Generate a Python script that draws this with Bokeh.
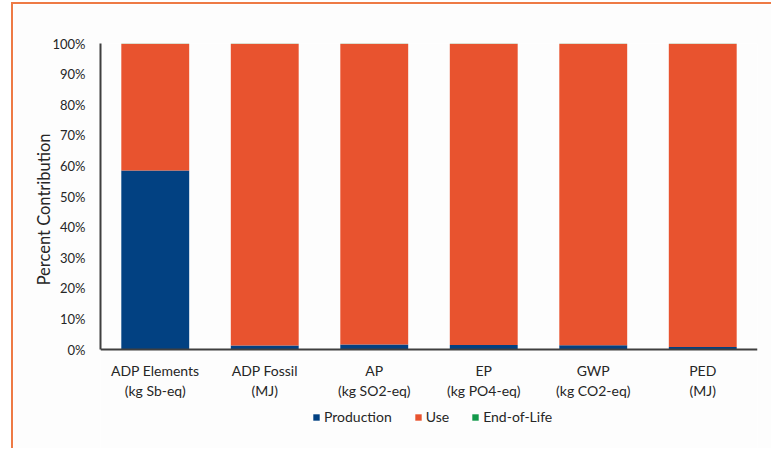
from bokeh.plotting import figure
from bokeh.models import FactorRange, Range1d, Legend, LegendItem, PrintfTickFormatter, ColumnDataSource, Title
from bokeh.embed import file_html
from bokeh.resources import INLINE

# Impact categories (two-line axis labels)
categories = ["ADP Elements\n(kg Sb-eq)", "ADP Fossil\n(MJ)", "AP\n(kg SO2-eq)",
              "EP\n(kg PO4-eq)", "GWP\n(kg CO2-eq)", "PED\n(MJ)"]
stages = ["Production", "Use", "End-of-Life"]

# Percent contribution of each life-cycle stage
production = [58.5, 1.3, 1.6, 1.5, 1.4, 0.8]
use = [41.4, 98.6, 98.3, 98.4, 98.5, 99.1]
end_of_life = [0.1, 0.1, 0.1, 0.1, 0.1, 0.1]

colors = ["#024182", "#E8532F", "#12994A"]
FONT = "Lato"

source = ColumnDataSource(dict(cat=categories, Production=production, Use=use,
                               **{"End-of-Life": end_of_life}))

# The plot area runs down to the bottom edge so that the category labels and the
# legend sit inside it; the value axis itself is bounded to 0-100 %.
p = figure(x_range=FactorRange(*categories, range_padding=0), y_range=Range1d(-33.0, 100),
           width=760, height=446, output_backend="svg", toolbar_location=None,
           min_border_left=87, min_border_right=16, min_border_top=39, min_border_bottom=0)
p.styles = {"border-left": "2px solid #EE7A45", "border-top": "2px solid #EE7A45",
            "margin-left": "11px", "margin-top": "2px"}

renderers = p.vbar_stack(stages, x="cat", width=0.62, color=colors, source=source,
                         line_color=None)

p.background_fill_color = "#FDFDFD"
p.border_fill_color = "#FDFDFD"
p.outline_line_color = None
p.xgrid.grid_line_color = None
p.ygrid.grid_line_color = None

p.yaxis.ticker = list(range(0, 101, 10))
p.yaxis.bounds = (0, 100)
p.yaxis.formatter = PrintfTickFormatter(format="%d%%")

# Value-axis label, anchored near the top of the 0-100 % scale
p.add_layout(Title(text="Percent Contribution", align="right", offset=90,
                   vertical_align="bottom", standoff=-8,
                   text_font=FONT, text_font_size="16.5px", text_font_style="normal",
                   text_color="#262626"), "left")

p.xaxis.fixed_location = 0

for ax in (p.xaxis[0], p.yaxis[0]):
    ax.major_tick_line_color = None
    ax.minor_tick_line_color = None
    ax.axis_line_color = "#3F3F3F"
    ax.axis_line_width = 2
    ax.major_label_text_font = FONT
    ax.major_label_text_color = "#262626"

p.yaxis.major_label_text_font_size = "13px"
p.xaxis.major_label_text_font_size = "14px"
p.xaxis.major_label_text_line_height = 1.2
p.yaxis.major_label_standoff = 9
p.xaxis.major_label_standoff = 6

legend = Legend(items=[LegendItem(label=s, renderers=[r]) for s, r in zip(stages, renderers)],
                orientation="horizontal", location=(212, 25),
                label_text_font=FONT, label_text_font_size="14px", label_text_color="#262626",
                glyph_width=8, glyph_height=8, spacing=22, label_standoff=4,
                border_line_color=None, background_fill_alpha=0, padding=0, margin=0)
p.add_layout(legend, "center")

open("out.html", "w").write(file_html(p, INLINE))
